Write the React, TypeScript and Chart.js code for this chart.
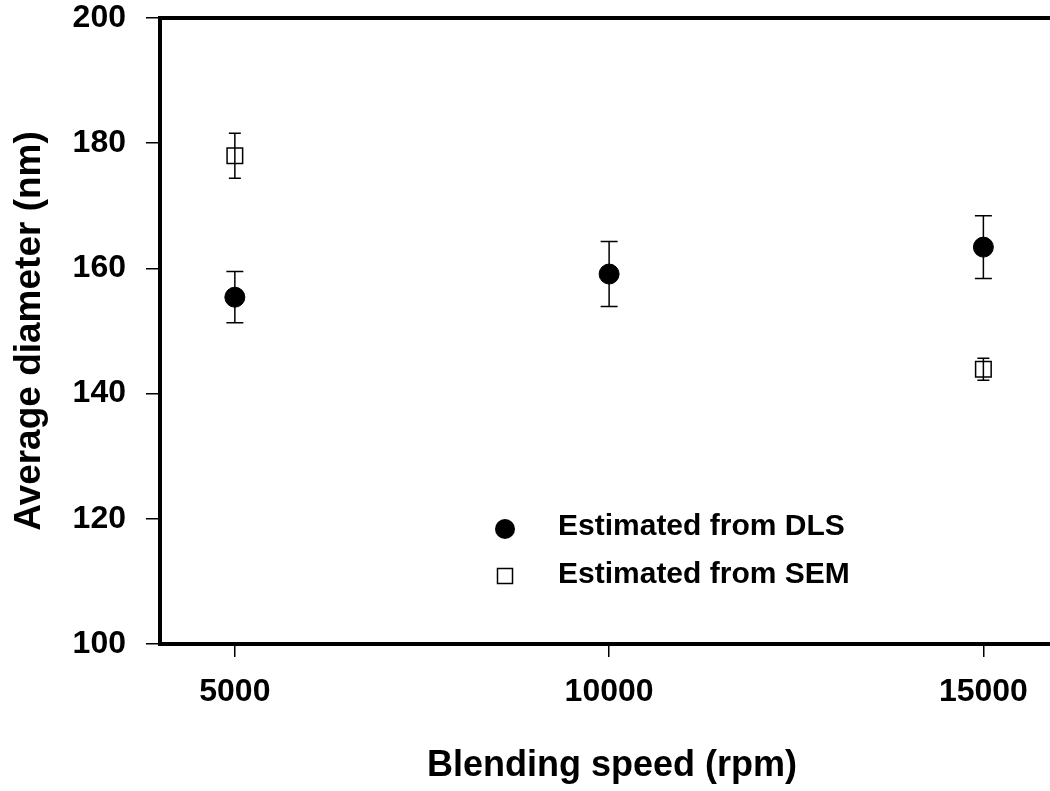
import React, { useEffect, useRef } from "react";
import { Chart, registerables } from "chart.js";

Chart.register(...registerables);

const speeds = [5000, 10000, 15000];
const dlsValues = [155.4, 159.1, 163.4];
const dlsErrors = [4.1, 5.2, 5.0];
const semSpeeds = [5000, 15000];
const semValues = [178.0, 143.9];
const semErrors = [3.6, 1.75];
const xTicks = [5000, 10000, 15000];
const xMin = 4000;
const xMax = 15890;
const yMin = 100;
const yMax = 200;
const legendLabels = ["Estimated from DLS", "Estimated from SEM"];
const xTitle = "Blending speed (rpm)";
const yTitle = "Average diameter (nm)";

const FONT = "'Liberation Sans', Arial, Helvetica, sans-serif";

export default function App() {
  const ref = useRef<HTMLCanvasElement | null>(null);

  useEffect(() => {
    if (!ref.current) return;

    const errorBars = {
      id: "errorBars",
      beforeDatasetsDraw(chart: any) {
        const ctx = chart.ctx;
        const ys = chart.scales.y;
        const xs = chart.scales.x;
        ctx.save();
        ctx.strokeStyle = "#000";
        ctx.lineWidth = 1.5;
        chart.data.datasets.forEach((ds: any) => {
          const errs: number[] = ds.errors || [];
          const cap: number = ds.capWidth || 14;
          ds.data.forEach((p: any, i: number) => {
            const e = errs[i];
            if (e == null) return;
            const px = xs.getPixelForValue(p.x);
            const top = ys.getPixelForValue(p.y + e);
            const bot = ys.getPixelForValue(p.y - e);
            ctx.beginPath();
            ctx.moveTo(px, top);
            ctx.lineTo(px, bot);
            ctx.moveTo(px - cap / 2, top);
            ctx.lineTo(px + cap / 2, top);
            ctx.moveTo(px - cap / 2, bot);
            ctx.lineTo(px + cap / 2, bot);
            ctx.stroke();
          });
        });
        ctx.restore();
      },
    };

    const frame = {
      id: "frame",
      afterDraw(chart: any) {
        const { ctx, chartArea } = chart;
        ctx.save();
        ctx.strokeStyle = "#000";
        ctx.lineWidth = 4;
        ctx.lineCap = "square";
        ctx.beginPath();
        ctx.moveTo(chart.width + 10, chartArea.top);
        ctx.lineTo(chartArea.left, chartArea.top);
        ctx.lineTo(chartArea.left, chartArea.bottom);
        ctx.lineTo(chart.width + 10, chartArea.bottom);
        ctx.stroke();

        // x-axis title
        ctx.fillStyle = "#000";
        ctx.font = `bold 36px ${FONT}`;
        ctx.textAlign = "center";
        ctx.textBaseline = "middle";
        ctx.fillText(xTitle, 612, 766);

        // legend
        const lx = 505;
        const ly1 = 529;
        const ly2 = 576;
        ctx.beginPath();
        ctx.arc(lx, ly1, 10, 0, Math.PI * 2);
        ctx.fill();
        ctx.lineWidth = 1.5;
        ctx.strokeRect(lx - 7.5, ly2 - 7.5, 15, 15);
        ctx.font = `bold 30px ${FONT}`;
        ctx.textBaseline = "middle";
        ctx.textAlign = "left";
        ctx.fillText(legendLabels[0], 558, 527);
        ctx.fillText(legendLabels[1], 558, 575);
        ctx.restore();
      },
    };

    const chart = new Chart(ref.current, {
      type: "scatter",
      data: {
        datasets: [
          {
            label: legendLabels[0],
            data: speeds.map((x, i) => ({ x, y: dlsValues[i] })),
            errors: dlsErrors,
            capWidth: 17,
            pointStyle: "circle",
            pointRadius: 10,
            pointHoverRadius: 10,
            backgroundColor: "#000",
            borderColor: "#000",
            borderWidth: 1,
          } as any,
          {
            label: legendLabels[1],
            data: semSpeeds.map((x, i) => ({ x, y: semValues[i] })),
            errors: semErrors,
            capWidth: 12,
            pointStyle: "rect",
            pointRadius: 11,
            pointHoverRadius: 11,
            backgroundColor: "rgba(0,0,0,0)",
            borderColor: "#000",
            borderWidth: 1.5,
          } as any,
        ],
      },
      options: {
        animation: false,
        responsive: false,
        maintainAspectRatio: false,
        layout: { autoPadding: false, padding: { top: 18, left: 0, right: 0, bottom: 0 } },
        plugins: { legend: { display: false }, tooltip: { enabled: false } },
        scales: {
          x: {
            type: "linear",
            min: xMin,
            max: xMax,
            afterBuildTicks: (scale: any) => {
              scale.ticks = xTicks.map((v) => ({ value: v }));
            },
            afterFit: (scale: any) => {
              scale.height = 147;
              scale.paddingLeft = 0;
              scale.paddingRight = 0;
            },
            border: { display: false },
            grid: {
              drawOnChartArea: false,
              drawTicks: true,
              tickLength: 13,
              tickColor: "#000",
              lineWidth: 1.5,
            },
            ticks: {
              color: "#000",
              padding: 16,
              font: { family: FONT, size: 32, weight: "bold" },
              callback: (v: any) => String(v),
            },
            title: { display: false, text: xTitle },
          },
          y: {
            type: "linear",
            min: yMin,
            max: yMax,
            afterFit: (scale: any) => {
              scale.width = 160;
              scale.paddingTop = 0;
              scale.paddingBottom = 0;
            },
            border: { display: false },
            grid: {
              drawOnChartArea: false,
              drawTicks: true,
              tickLength: 14,
              tickColor: "#000",
              lineWidth: 1.5,
            },
            ticks: {
              stepSize: 20,
              color: "#000",
              padding: 20,
              font: { family: FONT, size: 32, weight: "bold" },
            },
            title: {
              display: true,
              text: yTitle,
              color: "#000",
              font: { family: FONT, size: 37, weight: "bold" },
              padding: { top: 8, bottom: 0 },
            },
          },
        },
      },
      plugins: [errorBars, frame],
    });

    return () => chart.destroy();
  }, []);

  return (
    <div style={{ position: "fixed", left: 0, top: 0, width: 1050, height: 791, background: "#fff" }}>
      <canvas ref={ref} width={1050} height={791} style={{ display: "block" }} />
    </div>
  );
}
